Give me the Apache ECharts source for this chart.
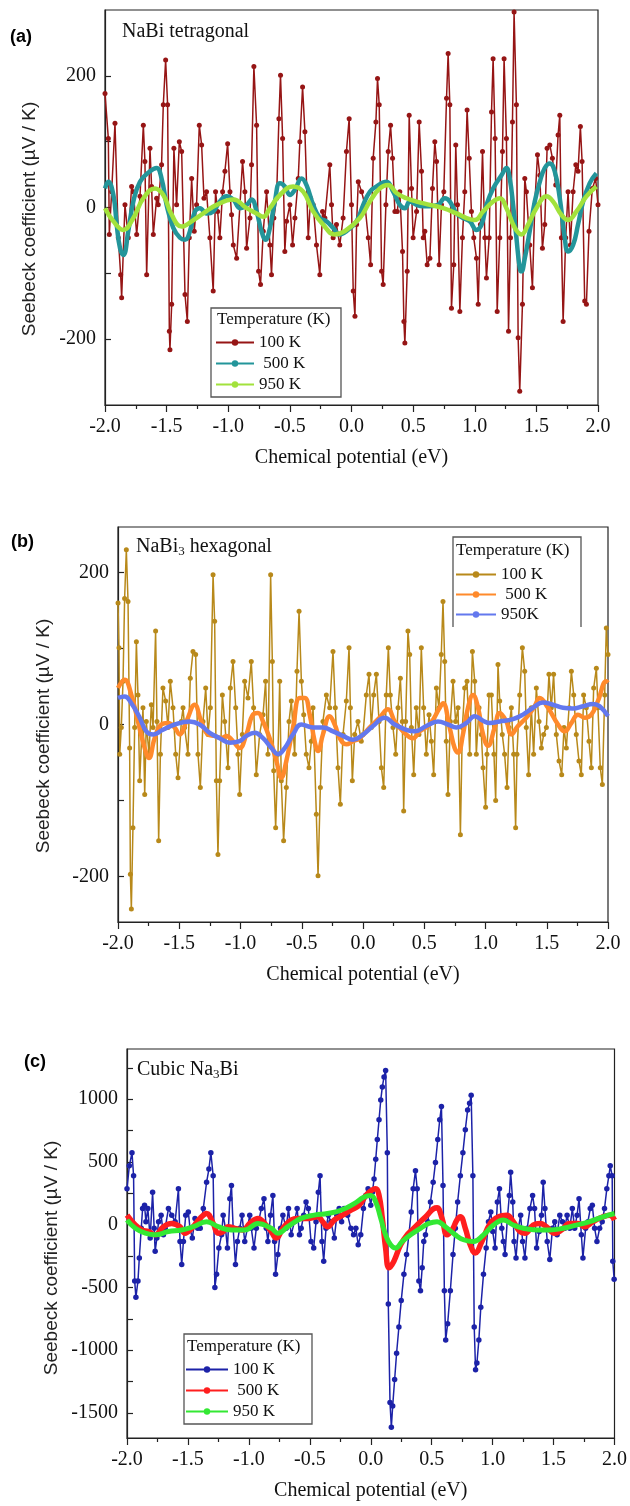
<!DOCTYPE html>
<html><head><meta charset="utf-8">
<script src="https://cdn.jsdelivr.net/npm/echarts@6/dist/echarts.min.js"></script>
<style>
html,body{margin:0;padding:0;background:#fff;width:630px;height:1506px;overflow:hidden}
.p{position:absolute;left:0;width:630px}
</style></head>
<body>
<div id="ca" class="p" style="top:0;height:490px"></div>
<div id="cb" class="p" style="top:490px;height:510px"></div>
<div id="cc" class="p" style="top:1000px;height:506px"></div>
<script>
// ---------- data ----------
const legendNamesA = ['100 K', ' 500 K', '950 K'];
const legendNamesB = ['100 K', ' 500 K', '950K'];
const legendNamesC = ['100 K', ' 500 K', '950 K'];
const yLabelsA = [-200, 0, 200];
const yTicksA = [-200, -100, 0, 100, 200];
const yLabelsB = [-200, 0, 200];
const yTicksB = [-200, -100, 0, 100, 200];
const yLabelsC = [-1500, -1000, -500, 0, 500, 1000];
const yTicksC = [-1500,-1250,-1000,-750,-500,-250,0,250,500,750,1000,1250];

const a100 = [[-2.000,173],[-1.973,105],[-1.965,-41],[-1.946,24],[-1.919,128],[-1.892,-46],[-1.873,-102],[-1.865,-137],[-1.838,4],[-1.811,-46],[-1.784,32],[-1.770,24],[-1.743,-41],[-1.716,17],[-1.689,125],[-1.676,70],[-1.662,-102],[-1.635,90],[-1.622,32],[-1.608,-41],[-1.581,14],[-1.568,4],[-1.541,65],[-1.527,156],[-1.508,224],[-1.492,156],[-1.478,-188],[-1.473,-216],[-1.459,-147],[-1.441,90],[-1.419,4],[-1.397,100],[-1.378,85],[-1.351,-132],[-1.332,-173],[-1.316,-46],[-1.297,44],[-1.276,-36],[-1.257,4],[-1.235,125],[-1.216,95],[-1.197,14],[-1.176,24],[-1.149,-46],[-1.122,-127],[-1.103,24],[-1.086,-6],[-1.068,-46],[-1.046,24],[-1.027,55],[-1.005,97],[-0.986,24],[-0.973,-11],[-0.959,-57],[-0.932,-77],[-0.905,4],[-0.884,70],[-0.865,24],[-0.851,-62],[-0.824,-16],[-0.811,65],[-0.792,214],[-0.770,125],[-0.754,-97],[-0.738,-117],[-0.716,-36],[-0.689,24],[-0.662,-57],[-0.649,-102],[-0.630,-16],[-0.608,14],[-0.589,135],[-0.576,201],[-0.559,105],[-0.541,-67],[-0.527,-21],[-0.500,4],[-0.478,-57],[-0.459,-16],[-0.432,44],[-0.419,100],[-0.397,183],[-0.378,115],[-0.351,-46],[-0.332,14],[-0.311,4],[-0.284,-57],[-0.257,-102],[-0.235,-6],[-0.216,-16],[-0.176,65],[-0.162,4],[-0.149,-46],[-0.122,-26],[-0.095,-57],[-0.068,-16],[-0.041,85],[-0.019,135],[0.000,4],[0.014,-127],[0.028,-165],[0.041,-26],[0.055,39],[0.082,24],[0.109,4],[0.136,-46],[0.155,-87],[0.176,75],[0.198,130],[0.211,196],[0.225,156],[0.244,-97],[0.257,-117],[0.279,4],[0.298,85],[0.317,125],[0.333,75],[0.352,-6],[0.371,-6],[0.392,24],[0.414,-67],[0.425,-173],[0.433,-206],[0.452,-97],[0.468,140],[0.487,29],[0.500,-46],[0.528,-6],[0.549,130],[0.568,55],[0.582,-46],[0.595,-36],[0.614,-87],[0.636,-77],[0.657,29],[0.676,100],[0.690,70],[0.711,-87],[0.730,4],[0.749,24],[0.771,166],[0.784,234],[0.798,156],[0.811,-153],[0.830,-87],[0.846,95],[0.860,4],[0.879,-158],[0.900,-46],[0.919,24],[0.938,148],[0.955,75],[0.973,-6],[0.992,-46],[1.014,-77],[1.028,-147],[1.046,-26],[1.063,85],[1.082,-46],[1.095,-107],[1.117,-46],[1.136,145],[1.149,226],[1.165,105],[1.182,-158],[1.203,-46],[1.225,85],[1.238,226],[1.257,105],[1.274,-188],[1.290,-46],[1.306,130],[1.319,297],[1.338,156],[1.352,-198],[1.365,-279],[1.387,-147],[1.406,44],[1.419,24],[1.446,-57],[1.468,-122],[1.487,4],[1.509,80],[1.528,49],[1.549,-62],[1.568,-26],[1.587,90],[1.609,95],[1.630,75],[1.657,34],[1.676,110],[1.690,140],[1.703,-46],[1.717,-173],[1.738,-46],[1.757,24],[1.776,-57],[1.798,24],[1.820,65],[1.838,55],[1.857,123],[1.871,70],[1.892,-142],[1.906,-147],[1.927,-36],[1.954,29],[1.981,44],[2.000,4]];
const a500 = [[-2.000,29],[-1.973,39],[-1.932,19],[-1.905,-26],[-1.878,-62],[-1.851,-72],[-1.811,-36],[-1.770,9],[-1.716,39],[-1.635,55],[-1.581,60],[-1.541,44],[-1.500,4],[-1.446,-31],[-1.392,-46],[-1.351,-49],[-1.311,-36],[-1.270,-6],[-1.230,-1],[-1.176,-9],[-1.122,-6],[-1.068,9],[-1.014,17],[-0.959,12],[-0.905,-1],[-0.851,4],[-0.811,12],[-0.770,-6],[-0.730,-36],[-0.697,-49],[-0.662,-31],[-0.622,9],[-0.581,37],[-0.541,32],[-0.500,19],[-0.459,27],[-0.405,44],[-0.365,34],[-0.311,4],[-0.257,-16],[-0.203,-21],[-0.149,-31],[-0.095,-41],[-0.041,-36],[0.041,-21],[0.095,4],[0.149,24],[0.203,32],[0.284,39],[0.338,24],[0.392,4],[0.433,-1],[0.473,9],[0.528,4],[0.582,2],[0.636,2],[0.703,4],[0.757,14],[0.798,9],[0.852,-9],[0.906,-16],[0.960,-21],[1.014,-34],[1.055,-26],[1.095,4],[1.149,29],[1.217,49],[1.257,60],[1.284,44],[1.311,4],[1.338,-46],[1.365,-92],[1.379,-97],[1.406,-77],[1.446,-36],[1.487,9],[1.528,39],[1.568,60],[1.609,67],[1.649,55],[1.690,14],[1.730,-46],[1.757,-67],[1.798,-57],[1.838,-26],[1.879,9],[1.933,37],[1.987,52]];
const a950 = [[-2.000,-1],[-1.932,-21],[-1.851,-34],[-1.770,-16],[-1.689,14],[-1.595,29],[-1.527,19],[-1.459,-11],[-1.378,-29],[-1.297,-21],[-1.203,-9],[-1.095,4],[-0.959,12],[-0.851,-1],[-0.770,-9],[-0.716,-14],[-0.662,-1],[-0.581,19],[-0.473,32],[-0.392,24],[-0.311,-6],[-0.230,-26],[-0.135,-41],[-0.054,-36],[0.068,-16],[0.149,9],[0.230,29],[0.298,34],[0.365,22],[0.446,14],[0.528,9],[0.636,4],[0.744,-1],[0.852,-9],[0.933,-16],[1.001,-19],[1.068,-6],[1.149,9],[1.203,14],[1.257,-1],[1.325,-31],[1.379,-41],[1.433,-26],[1.500,-1],[1.582,17],[1.636,9],[1.703,-11],[1.757,-19],[1.825,-6],[1.906,17],[1.987,32]];

const b100 = [[-2.000,160],[-1.992,101],[-1.986,-39],[-1.973,-4],[-1.959,57],[-1.946,166],[-1.932,230],[-1.918,162],[-1.905,-31],[-1.899,-197],[-1.891,-243],[-1.878,-136],[-1.864,-4],[-1.850,109],[-1.837,39],[-1.823,-74],[-1.796,22],[-1.782,-92],[-1.769,4],[-1.747,-39],[-1.728,26],[-1.714,-4],[-1.693,123],[-1.682,4],[-1.668,-153],[-1.654,-39],[-1.633,48],[-1.611,31],[-1.592,-4],[-1.573,57],[-1.551,22],[-1.529,-39],[-1.510,-70],[-1.483,4],[-1.469,22],[-1.456,-4],[-1.429,-39],[-1.410,61],[-1.388,96],[-1.366,92],[-1.347,-39],[-1.328,-83],[-1.306,4],[-1.284,48],[-1.265,-13],[-1.246,22],[-1.224,197],[-1.211,136],[-1.197,-74],[-1.184,-171],[-1.170,-74],[-1.148,39],[-1.129,4],[-1.102,-57],[-1.083,48],[-1.061,83],[-1.039,22],[-1.020,-39],[-1.007,-92],[-0.985,-13],[-0.966,57],[-0.939,35],[-0.912,83],[-0.893,22],[-0.871,-66],[-0.844,-13],[-0.816,13],[-0.795,57],[-0.776,-39],[-0.754,197],[-0.740,83],[-0.729,-61],[-0.713,-136],[-0.694,-39],[-0.680,57],[-0.667,-74],[-0.648,-153],[-0.626,-83],[-0.604,4],[-0.585,31],[-0.558,-39],[-0.539,70],[-0.522,149],[-0.503,57],[-0.484,13],[-0.463,-39],[-0.441,-57],[-0.422,-22],[-0.408,22],[-0.381,-118],[-0.367,-199],[-0.348,-83],[-0.327,4],[-0.299,39],[-0.272,22],[-0.245,96],[-0.226,22],[-0.204,-57],[-0.185,-105],[-0.163,-13],[-0.136,31],[-0.114,101],[-0.103,22],[-0.087,-74],[-0.068,-13],[-0.041,4],[-0.014,-22],[0.000,-13],[0.027,39],[0.049,66],[0.068,-4],[0.087,39],[0.109,66],[0.131,4],[0.150,-57],[0.169,-83],[0.190,39],[0.207,101],[0.223,39],[0.245,-4],[0.267,-39],[0.286,22],[0.305,61],[0.321,4],[0.332,-114],[0.348,4],[0.367,123],[0.381,92],[0.395,-4],[0.414,-66],[0.435,22],[0.457,-13],[0.476,101],[0.495,22],[0.517,-39],[0.539,13],[0.558,-22],[0.577,-66],[0.599,48],[0.620,22],[0.639,92],[0.653,162],[0.667,83],[0.680,-22],[0.694,-92],[0.713,4],[0.735,57],[0.756,4],[0.776,22],[0.795,-145],[0.811,-4],[0.830,48],[0.849,57],[0.871,-39],[0.893,96],[0.912,57],[0.925,-39],[0.947,22],[0.966,-13],[0.980,-57],[1.001,-109],[1.012,-39],[1.029,39],[1.048,39],[1.069,-39],[1.083,-100],[1.102,79],[1.116,31],[1.137,-13],[1.156,-39],[1.176,-83],[1.192,-4],[1.211,22],[1.230,-39],[1.246,-136],[1.257,-39],[1.279,39],[1.301,101],[1.320,70],[1.333,-4],[1.352,-66],[1.374,22],[1.393,-39],[1.415,48],[1.437,4],[1.456,-31],[1.475,-13],[1.497,-4],[1.518,66],[1.537,22],[1.556,66],[1.578,-13],[1.600,-48],[1.622,-66],[1.641,-4],[1.660,-31],[1.682,22],[1.701,70],[1.720,39],[1.741,-13],[1.763,-48],[1.782,-66],[1.801,39],[1.823,22],[1.845,-22],[1.864,-57],[1.883,48],[1.905,74],[1.918,22],[1.937,-57],[1.954,-79],[1.973,39],[1.986,127],[2.000,92]];
const b500 = [[-2.000,48],[-1.946,59],[-1.891,39],[-1.837,4],[-1.782,-31],[-1.747,-44],[-1.701,-18],[-1.646,0],[-1.592,2],[-1.537,-4],[-1.497,-13],[-1.442,4],[-1.374,26],[-1.320,4],[-1.265,-13],[-1.211,-15],[-1.156,-18],[-1.116,-15],[-1.061,-22],[-1.007,-31],[-0.952,-13],[-0.898,13],[-0.857,15],[-0.816,4],[-0.762,-18],[-0.707,-48],[-0.667,-70],[-0.626,-48],[-0.571,-4],[-0.517,35],[-0.476,35],[-0.435,13],[-0.395,-22],[-0.367,-35],[-0.327,-13],[-0.272,11],[-0.231,0],[-0.190,-18],[-0.136,-26],[-0.082,-22],[-0.027,-18],[0.054,-4],[0.136,9],[0.204,20],[0.259,4],[0.327,-9],[0.408,-18],[0.463,-9],[0.544,0],[0.626,22],[0.653,28],[0.707,-4],[0.748,-31],[0.776,-37],[0.816,-13],[0.857,22],[0.898,39],[0.939,22],[0.980,-13],[1.020,-28],[1.075,-4],[1.116,15],[1.170,4],[1.211,-13],[1.265,-2],[1.333,9],[1.401,24],[1.442,35],[1.510,22],[1.592,0],[1.646,-9],[1.701,2],[1.755,13],[1.810,9],[1.864,13],[1.918,31],[1.986,57],[2.000,55]];
const b950 = [[-2.000,35],[-1.946,37],[-1.891,28],[-1.823,9],[-1.769,-9],[-1.714,-13],[-1.633,-7],[-1.537,0],[-1.415,4],[-1.333,0],[-1.252,-11],[-1.170,-18],[-1.088,-24],[-1.007,-22],[-0.952,-15],[-0.884,-11],[-0.816,-18],[-0.748,-31],[-0.694,-39],[-0.639,-31],[-0.571,-13],[-0.503,0],[-0.408,-4],[-0.327,-4],[-0.245,-9],[-0.163,-15],[-0.082,-20],[-0.014,-15],[0.082,-2],[0.177,9],[0.259,0],[0.354,-7],[0.422,-9],[0.517,-2],[0.612,4],[0.694,0],[0.762,-4],[0.844,2],[0.912,11],[0.980,5],[1.034,2],[1.116,4],[1.224,7],[1.306,13],[1.388,22],[1.469,29],[1.551,26],[1.633,22],[1.714,21],[1.796,24],[1.878,27],[1.932,24],[2.000,11]];

const c100 = [[-2.000,286],[-1.981,469],[-1.959,574],[-1.946,390],[-1.937,-448],[-1.927,-579],[-1.910,-448],[-1.899,-265],[-1.883,-29],[-1.872,128],[-1.856,155],[-1.845,24],[-1.829,128],[-1.810,-107],[-1.790,259],[-1.777,-29],[-1.769,-212],[-1.755,-107],[-1.741,24],[-1.720,76],[-1.701,-81],[-1.687,-29],[-1.660,128],[-1.633,76],[-1.605,24],[-1.578,286],[-1.565,-134],[-1.551,-317],[-1.537,-134],[-1.518,76],[-1.497,102],[-1.483,-29],[-1.464,-107],[-1.442,50],[-1.420,-29],[-1.399,-29],[-1.374,128],[-1.347,338],[-1.328,443],[-1.312,574],[-1.293,390],[-1.279,-500],[-1.265,-396],[-1.246,-186],[-1.224,-81],[-1.211,76],[-1.192,-29],[-1.176,-186],[-1.156,207],[-1.143,312],[-1.129,-29],[-1.110,-317],[-1.094,-134],[-1.075,-29],[-1.056,76],[-1.034,-134],[-1.012,-29],[-0.993,76],[-0.980,-29],[-0.958,-186],[-0.939,-29],[-0.920,24],[-0.898,128],[-0.876,207],[-0.857,-29],[-0.844,-134],[-0.822,76],[-0.803,233],[-0.789,-134],[-0.781,-396],[-0.762,-238],[-0.740,-29],[-0.721,76],[-0.694,-29],[-0.675,128],[-0.653,-81],[-0.626,24],[-0.604,128],[-0.585,-81],[-0.571,-29],[-0.550,76],[-0.531,181],[-0.512,128],[-0.490,-134],[-0.468,-186],[-0.449,24],[-0.430,259],[-0.416,390],[-0.400,-134],[-0.386,-291],[-0.367,-29],[-0.348,76],[-0.327,24],[-0.299,-107],[-0.278,76],[-0.259,128],[-0.239,24],[-0.218,128],[-0.190,76],[-0.163,-29],[-0.141,-81],[-0.122,-29],[-0.103,-160],[-0.082,-81],[-0.060,128],[-0.041,233],[-0.022,286],[0.000,155],[0.014,259],[0.027,364],[0.041,521],[0.054,679],[0.068,836],[0.082,993],[0.095,1098],[0.109,1177],[0.122,1229],[0.136,574],[0.144,-632],[0.158,-1418],[0.169,-1614],[0.180,-1444],[0.196,-1234],[0.212,-1025],[0.231,-815],[0.250,-605],[0.272,-396],[0.294,-238],[0.313,-81],[0.332,102],[0.348,286],[0.367,430],[0.381,286],[0.395,-448],[0.408,-527],[0.422,-343],[0.435,-134],[0.449,-81],[0.468,24],[0.490,181],[0.512,338],[0.531,495],[0.550,679],[0.566,836],[0.580,941],[0.593,312],[0.604,-527],[0.615,-920],[0.631,-789],[0.653,-527],[0.675,-238],[0.694,-29],[0.713,181],[0.735,390],[0.756,574],[0.776,757],[0.795,914],[0.811,967],[0.824,1032],[0.838,390],[0.849,-815],[0.860,-1156],[0.871,-1103],[0.887,-920],[0.903,-658],[0.925,-396],[0.947,-186],[0.966,24],[0.985,102],[1.001,-55],[1.020,-186],[1.039,181],[1.056,286],[1.075,-29],[1.088,-134],[1.102,-238],[1.121,50],[1.137,233],[1.148,417],[1.165,181],[1.176,-134],[1.192,-265],[1.211,-29],[1.230,76],[1.246,-134],[1.265,-265],[1.284,-29],[1.306,128],[1.328,233],[1.344,128],[1.361,-186],[1.382,-55],[1.401,76],[1.415,338],[1.429,128],[1.448,-134],[1.469,-278],[1.491,-29],[1.510,24],[1.529,-81],[1.551,76],[1.573,24],[1.592,-29],[1.611,76],[1.633,-29],[1.654,128],[1.673,-29],[1.693,76],[1.709,207],[1.728,-81],[1.741,-265],[1.763,-29],[1.782,24],[1.801,128],[1.818,155],[1.837,-29],[1.856,-134],[1.878,-29],[1.899,24],[1.918,128],[1.937,286],[1.954,390],[1.965,469],[1.981,390],[1.986,-291],[1.997,-435]];
const c500 = [[-2.000,76],[-1.932,-3],[-1.878,-42],[-1.823,-55],[-1.769,-81],[-1.701,-16],[-1.633,10],[-1.565,-16],[-1.524,-68],[-1.469,-29],[-1.401,50],[-1.347,89],[-1.293,10],[-1.252,-68],[-1.211,-55],[-1.170,-16],[-1.116,-29],[-1.048,-42],[-0.993,10],[-0.925,50],[-0.871,10],[-0.816,-55],[-0.776,-107],[-0.721,-29],[-0.653,37],[-0.599,50],[-0.517,50],[-0.435,63],[-0.395,24],[-0.354,-16],[-0.299,37],[-0.231,76],[-0.163,115],[-0.095,155],[-0.027,246],[0.041,286],[0.068,233],[0.095,50],[0.122,-186],[0.150,-343],[0.190,-291],[0.245,-160],[0.299,-81],[0.354,-29],[0.408,24],[0.463,76],[0.517,128],[0.544,134],[0.585,50],[0.626,-81],[0.667,-42],[0.707,37],[0.735,63],[0.776,-29],[0.816,-160],[0.857,-225],[0.912,-134],[0.980,10],[1.048,63],[1.116,76],[1.170,24],[1.224,-55],[1.265,-68],[1.333,-3],[1.388,10],[1.442,-16],[1.510,-68],[1.565,-42],[1.633,10],[1.701,10],[1.755,-16],[1.823,24],[1.905,63],[1.959,76],[2.000,37]];
const c950 = [[-2.000,37],[-1.932,-29],[-1.850,-68],[-1.769,-81],[-1.660,-55],[-1.551,-42],[-1.456,-16],[-1.347,24],[-1.252,-16],[-1.143,-42],[-1.034,-42],[-0.925,10],[-0.816,-29],[-0.762,-68],[-0.680,-16],[-0.571,50],[-0.463,76],[-0.354,89],[-0.245,115],[-0.136,168],[-0.054,220],[0.000,233],[0.041,181],[0.082,50],[0.122,-81],[0.163,-160],[0.204,-186],[0.259,-134],[0.327,-81],[0.408,-29],[0.476,10],[0.544,24],[0.612,-16],[0.694,-81],[0.762,-120],[0.844,-134],[0.925,-81],[1.007,-3],[1.088,37],[1.170,-3],[1.252,-29],[1.361,-42],[1.469,-42],[1.578,-29],[1.687,-3],[1.796,24],[1.905,63],[2.000,89]];

// ---------- styling ----------
const SERIF = "'Liberation Serif','Times New Roman',serif";
const SANS = "'Liberation Sans',Arial,sans-serif";
const AX = '#222';

function build(cfg) {
  const names = cfg.names;
  const series = [
    {type:'line', name:names[0], data:cfg.d100, symbol:'circle', symbolSize:cfg.sym100, showSymbol:true,
     lineStyle:{color:cfg.colors[0], width:1.5}, itemStyle:{color:cfg.colors[0]}, z:2},
    {type:'line', name:names[1], data:cfg.d500, smooth:0.45, symbol:'circle', symbolSize:5, showSymbol:false,
     lineStyle:{color:cfg.colors[1], width:cfg.w500}, itemStyle:{color:cfg.colors[1]}, z:3},
    {type:'line', name:names[2], data:cfg.d950, smooth:0.45, symbol:'circle', symbolSize:5, showSymbol:false,
     lineStyle:{color:cfg.colors[2], width:cfg.w950}, itemStyle:{color:cfg.colors[2]}, z:4}
  ];
  const g = cfg.grid;
  const graphic = [
    {type:'text', x:cfg.tag[0], y:cfg.tag[1], style:{text:cfg.tagText, font:"bold 18px "+SANS, fill:'#000', textVerticalAlign:'middle'}},
    {type:'text', x:cfg.title[0], y:cfg.title[1], style:{text:cfg.titleRich, rich:cfg.titleStyles, font:"20px "+SERIF, fill:'#111', textVerticalAlign:'middle'}},
    {type:'text', x:cfg.ytitle[0], y:cfg.ytitle[1], rotation:Math.PI/2,
     style:{text:'Seebeck coefficient (\u00b5V / K)', font:"19px "+SANS, fill:'#222', textAlign:'center', textVerticalAlign:'middle'}},
    {type:'text', x:cfg.legTitle[0], y:cfg.legTitle[1], style:{text:'Temperature (K)', font:"17px "+SERIF, fill:'#111', textVerticalAlign:'middle'}},
    cfg.legBox
  ];
  return {
    animation:false,
    backgroundColor:'#fff',
    grid:{left:g[0], top:g[1], width:g[2], height:g[3], show:true, borderColor:AX, borderWidth:1.2, backgroundColor:'transparent'},
    xAxis:{type:'value', min:-2, max:2, interval:0.5,
      axisLine:{show:true, onZero:false, lineStyle:{color:AX, width:1.2}},
      axisTick:{show:true, inside:false, length:7, lineStyle:{color:AX, width:1.2}},
      minorTick:{show:true, splitNumber:2, length:4, lineStyle:{color:AX, width:1.2}},
      splitLine:{show:false}, minorSplitLine:{show:false},
      axisLabel:{formatter:v=>v.toFixed(1), margin:12, fontFamily:SERIF, fontSize:20, color:'#111'},
      name:'Chemical potential (eV)', nameLocation:'middle', nameGap:43,
      nameTextStyle:{fontFamily:SERIF, fontSize:20, color:'#111'}},
    yAxis:{type:'value', min:cfg.ymin, max:cfg.ymax,
      axisLine:{show:true, onZero:false, lineStyle:{color:AX, width:1.2}},
      axisTick:{show:true, inside:true, length:6, customValues:cfg.yTicks, lineStyle:{color:AX, width:1.2}},
      axisLabel:{customValues:cfg.yLabels, formatter:v=>String(v), margin:9, fontFamily:SERIF, fontSize:20, color:'#111'},
      splitLine:{show:false}},
    legend:{orient:'vertical', left:cfg.leg[0], top:cfg.leg[1], itemWidth:cfg.leg[2], itemHeight:8, itemGap:cfg.leg[3],
      padding:0, selectedMode:false, data:names,
      textStyle:{fontFamily:SERIF, fontSize:17, color:'#111'}},
    graphic:graphic,
    series:series
  };
}

const boxStyle = {fill:'none', stroke:'#555', lineWidth:1.3};

const optA = build({
  names:legendNamesA, d100:a100, d500:a500, d950:a950,
  colors:['#961515','#23959a','#a2e23c'], sym100:5, w500:4.5, w950:4.5,
  grid:[105,10,493,395], ymin:-300, ymax:300, yTicks:yTicksA, yLabels:yLabelsA,
  tag:[10,37], tagText:'(a)',
  title:[122,32], titleRich:'{a|NaBi tetragonal}', titleStyles:{a:{fontSize:20, fontFamily:SERIF, fill:'#111'}},
  ytitle:[30,219], legTitle:[217,320], leg:[215,334,38,4],
  legBox:{type:'rect', shape:{x:211,y:308,width:130,height:89}, style:boxStyle}
});
const optB = build({
  names:legendNamesB, d100:b100, d500:b500, d950:b950,
  colors:['#b8891a','#ff8a2b','#6378ee'], sym100:5, w500:4.5, w950:4.5,
  grid:[118,37,490,395], ymin:-260, ymax:260, yTicks:yTicksB, yLabels:yLabelsB,
  tag:[11,52], tagText:'(b)',
  title:[136,57], titleRich:'{a|NaBi}{s|3}{a| hexagonal}',
  titleStyles:{a:{fontSize:20, fontFamily:SERIF, fill:'#111'}, s:{fontSize:13, fontFamily:SERIF, fill:'#111', verticalAlign:'bottom', padding:[10,0,0,0]}},
  ytitle:[44,246], legTitle:[456,61], leg:[455,76,40,3],
  legBox:{type:'polyline', shape:{points:[[453,137],[453,47],[581,47],[581,137]]}, style:boxStyle}
});
const optC = build({
  names:legendNamesC, d100:c100, d500:c500, d950:c950,
  colors:['#1c22a8','#ff1e1e','#33e833'], sym100:5.5, w500:5.5, w950:5,
  grid:[127,49,491,395], ymin:-1700, ymax:1400, yTicks:yTicksC, yLabels:yLabelsC,
  tag:[24,62], tagText:'(c)',
  title:[137,70], titleRich:'{a|Cubic Na}{s|3}{a|Bi}',
  titleStyles:{a:{fontSize:20, fontFamily:SERIF, fill:'#111'}, s:{fontSize:13, fontFamily:SERIF, fill:'#111', verticalAlign:'bottom', padding:[10,0,0,0]}},
  ytitle:[52,258], legTitle:[187,347], leg:[185,361,42,4],
  legBox:{type:'rect', shape:{x:184,y:334,width:128,height:90}, style:boxStyle}
});

echarts.init(document.getElementById('ca')).setOption(optA);
echarts.init(document.getElementById('cb')).setOption(optB);
echarts.init(document.getElementById('cc')).setOption(optC);
</script>
</body></html>
